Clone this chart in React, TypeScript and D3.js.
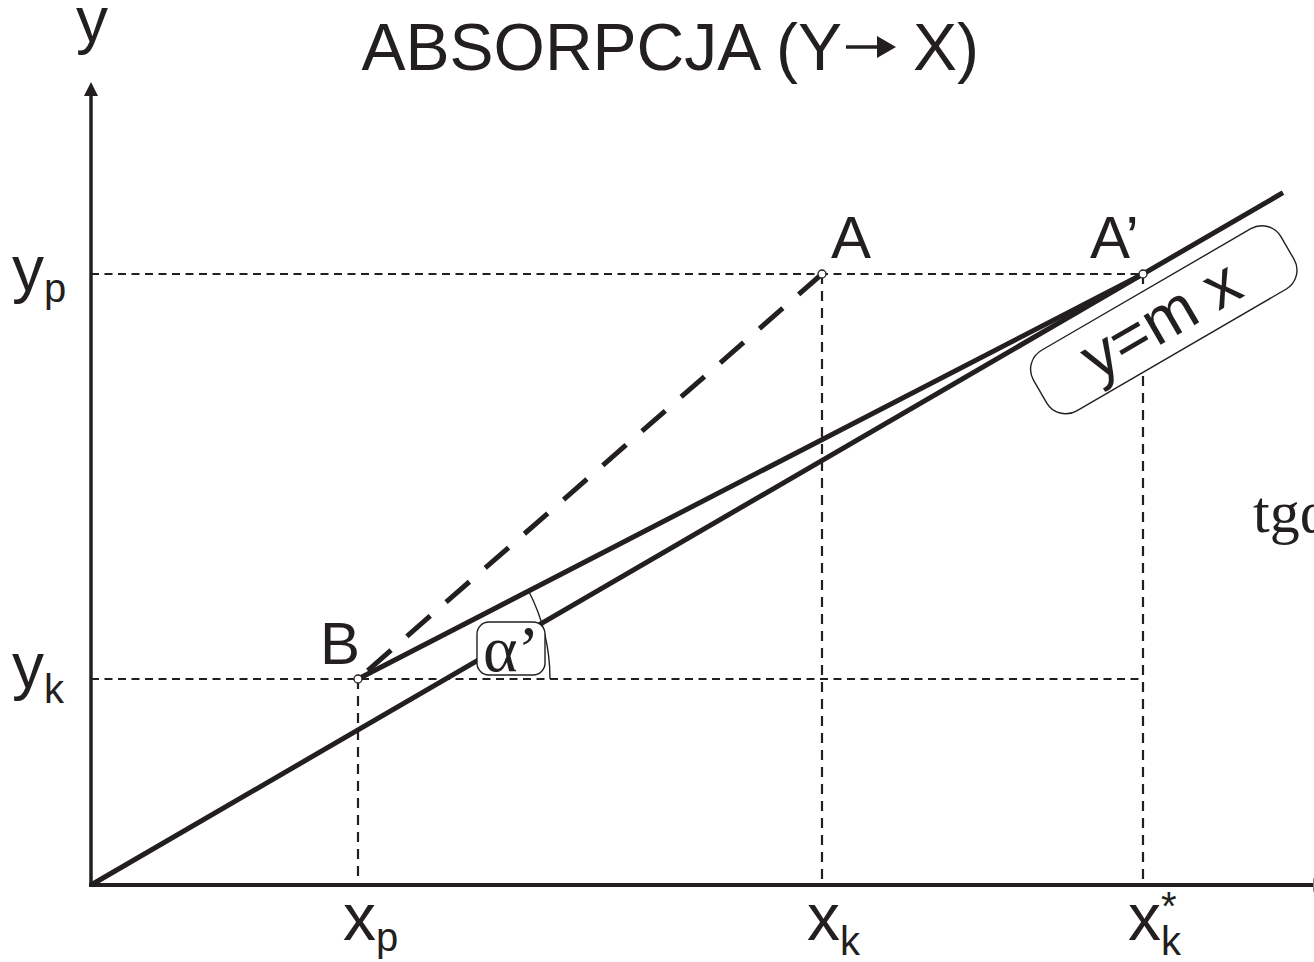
import React from "react";
import * as d3 from "d3";

const W = 1314;
const H = 962;

// Axis values of the construction (arbitrary units)
const xDomain = [0, 12.23];
const yDomain = [0, 8];
const xTickKeys = ["p", "k", "k"];
const xTickStars = [false, false, true];
const xTickValues = [2.67, 7.31, 10.52];
const yTickKeys = ["p", "k"];
const yTickValues = [6.11, 2.06];

// Marked points: B (start), A (real end), A' (end on the operating line)
const pointNames = ["B", "A", "A’"];
const pointX = [2.67, 7.31, 10.52];
const pointY = [2.06, 6.11, 6.11];

// Where the line y = m x is cut off on the right
const lineEndX = 11.92;

// Label offsets (layout only)
const pointLabelDx = [-38, 9, -53];
const pointLabelDy = [-15, -16, -16];
const yLabelDy = [17, 9];
const subDy: Record<string, number> = { p: 11, k: 15 };

const INK = "#231f20";
const SANS = "'Liberation Sans', Arial, sans-serif";
const SERIF = "'Liberation Serif', 'Times New Roman', serif";

export default function App() {
  const x = d3.scaleLinear().domain(xDomain).range([91, 1314]);
  const y = d3.scaleLinear().domain(yDomain).range([885, 85]);

  const [xp, xk, xks] = xTickValues;
  const [yp, yk] = yTickValues;
  const m = yp / xks;

  const pts = pointX.map((v, i) => [x(v), y(pointY[i])] as [number, number]);
  const [B, A, A2] = pts;

  const line = d3
    .line<[number, number]>()
    .x((d) => x(d[0]))
    .y((d) => y(d[1]));

  const opLine = line([
    [0, 0],
    [lineEndX, m * lineEndX],
  ]);
  const baLine = line([
    [pointX[0], pointY[0]],
    [pointX[2], pointY[2]],
  ]);
  // dashed B–A drawn from A so the pattern starts with a dash at A
  const abLine = line([
    [pointX[1], pointY[1]],
    [pointX[0], pointY[0]],
  ]);

  // guide lines
  const guides: [number, number][][] = [
    [
      [0, yp],
      [xks, yp],
    ],
    [
      [0, yk],
      [xks, yk],
    ],
    [
      [xp, yk],
      [xp, 0],
    ],
    [
      [xk, yp],
      [xk, 0],
    ],
    [
      [xks, yp],
      [xks, 0],
    ],
  ];

  // angle alpha' between B–A' and the horizontal, arc centred at B
  const alpha = Math.atan2(B[1] - A2[1], A2[0] - B[0]);
  const arcR = 192;
  const arcPath = d3.path();
  arcPath.arc(B[0], B[1], arcR, 0, -alpha, true);

  // slope angle of y = m x on screen
  const theta =
    (Math.atan2(y(0) - y(m * xks), x(xks) - x(0)) * 180) / Math.PI;

  const x0 = x(0);
  const y0 = y(0);
  const yTop = y(yDomain[1]);

  return (
    <div style={{ position: "absolute", left: 0, top: 0 }}>
      <svg width={W} height={H} style={{ display: "block", background: "#fff" }}>
        {/* title; the arrow between Y and X is drawn as a shape */}
        <text y={70} fontFamily={SANS} fontSize={66} fill={INK}>
          <tspan x={842} textAnchor="end">
            ABSORPCJA (Y
          </tspan>
          <tspan x={913}>X)</tspan>
        </text>
        <line x1={846} y1={47} x2={880} y2={47} stroke={INK} strokeWidth={3.6} />
        <path d="M877,36 L896,47 L877,58 Z" fill={INK} />

        {/* axes */}
        <line x1={x0} y1={y0} x2={x0} y2={yTop + 11} stroke={INK} strokeWidth={3.5} />
        <path
          d={`M${x0},${yTop - 3} L${x0 - 7},${yTop + 11} L${x0 + 7},${yTop + 11} Z`}
          fill={INK}
        />
        <text x={x0 + 1} y={42} textAnchor="middle" fontFamily={SANS} fontSize={64} fill={INK}>
          y
        </text>
        <line x1={x0 - 2} y1={y0} x2={W} y2={y0} stroke={INK} strokeWidth={4} />
        <path d={`M${W - 1},${y0 - 7} L${W + 13},${y0} L${W - 1},${y0 + 7} Z`} fill="#888" />

        {/* thin dashed guides */}
        {guides.map((g, i) => (
          <path
            key={i}
            d={line(g) || ""}
            fill="none"
            stroke={INK}
            strokeWidth={2.2}
            strokeDasharray={i < 2 ? "8 5.5" : "10 7"}
          />
        ))}

        {/* angle arc */}
        <path d={arcPath.toString()} fill="none" stroke={INK} strokeWidth={1.4} />

        {/* heavy lines */}
        <path d={abLine || ""} fill="none" stroke={INK} strokeWidth={5} strokeDasharray="31 21" />
        <path d={opLine || ""} fill="none" stroke={INK} strokeWidth={5} />
        <path d={baLine || ""} fill="none" stroke={INK} strokeWidth={5} />

        {/* alpha' tag */}
        <rect
          x={B[0] + 119}
          y={B[1] - 57}
          width={68}
          height={53}
          rx={12}
          fill="#fff"
          stroke={INK}
          strokeWidth={1.4}
        />
        <text x={B[0] + 125} y={B[1] - 8} fontFamily={SERIF} fontSize={66} fill={INK}>
          α’
        </text>

        {/* y = m x tag */}
        <g transform={`translate(${A2[0]},${A2[1]}) rotate(${-theta})`}>
          <rect
            x={-5 - 143}
            y={50 - 35}
            width={286}
            height={70}
            rx={22}
            fill="#fff"
            stroke={INK}
            strokeWidth={1.4}
          />
          <text x={-8} y={70} textAnchor="middle" fontFamily={SANS} fontSize={64} fill={INK}>
            y=m x
          </text>
        </g>

        {/* points */}
        {pts.map((p, i) => (
          <g key={pointNames[i]}>
            <circle cx={p[0]} cy={p[1]} r={4} fill="#fff" stroke={INK} strokeWidth={1.3} />
            <text
              x={p[0] + pointLabelDx[i]}
              y={p[1] + pointLabelDy[i]}
              fontFamily={SANS}
              fontSize={60}
              fill={INK}
            >
              {pointNames[i]}
            </text>
          </g>
        ))}

        {/* y tick labels */}
        {yTickValues.map((v, i) => (
          <text key={"y" + i} x={12} y={y(v) + yLabelDy[i]} fontFamily={SANS} fontSize={64} fill={INK}>
            y
            <tspan fontSize={40} dy={subDy[yTickKeys[i]]}>
              {yTickKeys[i]}
            </tspan>
          </text>
        ))}

        {/* x tick labels */}
        {xTickValues.map((v, i) => (
          <g key={"x" + i}>
            <text x={x(v) - 15} y={940} fontFamily={SANS} fontSize={66} fill={INK}>
              x
              <tspan fontSize={40} dy={subDy[xTickKeys[i]]}>
                {xTickKeys[i]}
              </tspan>
            </text>
            {xTickStars[i] && (
              <text x={x(v) + 18} y={920} fontFamily={SANS} fontSize={40} fill={INK}>
                *
              </text>
            )}
          </g>
        ))}

        {/* slope note, running off the right edge */}
        <text x={1253} y={532} fontFamily={SERIF} fontSize={60} fill={INK}>
          tgα’ = m
        </text>
      </svg>
    </div>
  );
}
